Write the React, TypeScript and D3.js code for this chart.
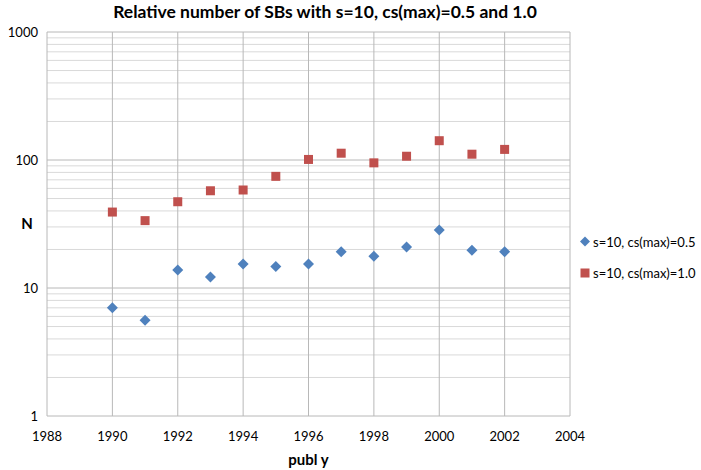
import React from 'react';
import * as d3 from 'd3';

const years = [1990, 1991, 1992, 1993, 1994, 1995, 1996, 1997, 1998, 1999, 2000, 2001, 2002];
const half = [7.0, 5.6, 13.8, 12.2, 15.4, 14.7, 15.4, 19.2, 17.7, 20.9, 28.4, 19.7, 19.2];
const full = [39.2, 33.6, 47.2, 57.5, 58.3, 74.5, 101, 113, 95, 107, 141.5, 111, 121];
const xTicks = [1988, 1990, 1992, 1994, 1996, 1998, 2000, 2002, 2004];
const yTicks = [1, 10, 100, 1000];
const seriesNames = ['s=10, cs(max)=0.5', 's=10, cs(max)=1.0'];

const W = 701;
const H = 470;
const margin = { top: 32, right: 131, bottom: 54, left: 47 };
const font = 'Lato, "Open Sans", sans-serif';

export default function App() {
  const x = d3.scaleLinear().domain([1988, 2004]).range([margin.left, W - margin.right]);
  const y = d3.scaleLog().domain([1, 1000]).range([H - margin.bottom, margin.top]);

  // minor grid at 2..9 of each decade
  const minor: number[] = [];
  [1, 10, 100].forEach((d) => {
    for (let k = 2; k <= 9; k++) minor.push(d * k);
  });

  const blue = '#4F81BD';
  const red = '#C0504D';

  return (
    <svg width={W} height={H} style={{ position: 'absolute', left: 0, top: 0 }} fontFamily={font}>
      <rect width={W} height={H} fill="#fff" />
      <text x={325} y={18} textAnchor="middle" fontSize={17.5} fontWeight="bold" fill="#000">
        Relative number of SBs with s=10, cs(max)=0.5 and 1.0
      </text>

      {minor.map((v) => (
        <line key={'m' + v} x1={x(1988)} x2={x(2004)} y1={y(v)} y2={y(v)} stroke="#d9d9d9" />
      ))}
      {yTicks.map((v) => (
        <line key={'y' + v} x1={x(1988)} x2={x(2004)} y1={y(v)} y2={y(v)} stroke="#b8b8b8" />
      ))}
      {xTicks.map((v) => (
        <line key={'x' + v} x1={x(v)} x2={x(v)} y1={y(1)} y2={y(1000)} stroke="#b8b8b8" />
      ))}

      {yTicks.map((v) => (
        <text key={'yl' + v} x={x(1988) - 9} y={y(v)} dy="0.35em" textAnchor="end" fontSize={13} fill="#000">
          {v}
        </text>
      ))}
      {xTicks.map((v) => (
        <text key={'xl' + v} x={x(v)} y={y(1) + 25} textAnchor="middle" fontSize={13} fill="#000">
          {v}
        </text>
      ))}
      <text x={27} y={(y(1) + y(1000)) / 2} dy="0.35em" textAnchor="middle" fontSize={15} fontWeight="bold">
        N
      </text>
      <text x={(x(1988) + x(2004)) / 2} y={y(1) + 49} textAnchor="middle" fontSize={15} fontWeight="bold">
        publ y
      </text>

      {years.map((yr, i) => (
        <rect key={'r' + yr} x={x(yr) - 4.5} y={y(full[i]) - 4.5} width={9} height={9} fill={red} />
      ))}
      {years.map((yr, i) => (
        <path
          key={'b' + yr}
          d={`M${x(yr)},${y(half[i]) - 5.5}l5.5,5.5l-5.5,5.5l-5.5,-5.5z`}
          fill={blue}
        />
      ))}

      <path d={`M585,236.5l5,5l-5,5l-5,-5z`} fill={blue} />
      <text x={593} y={242} dy="0.35em" fontSize={13}>
        {seriesNames[0]}
      </text>
      <rect x={580.5} y={268.5} width={9} height={9} fill={red} />
      <text x={593} y={273} dy="0.35em" fontSize={13}>
        {seriesNames[1]}
      </text>
    </svg>
  );
}
